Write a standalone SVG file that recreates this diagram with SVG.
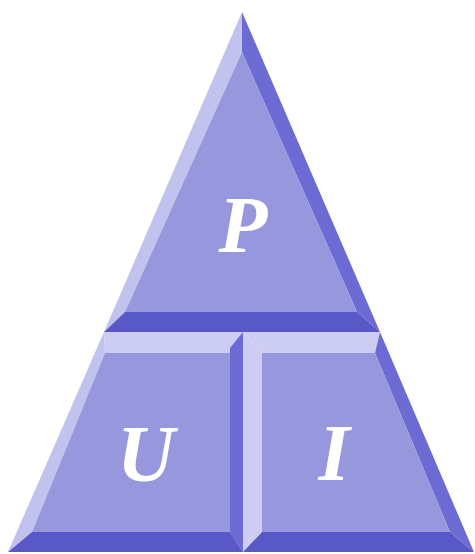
<svg xmlns="http://www.w3.org/2000/svg" width="475" height="554" viewBox="0 0 475 554">
<style>
.face{fill:#9797dd}
.lt{fill:#cdcdf3}
.lt2{fill:#c2c2ee}
.dk{fill:#6b6bd3}
.dkb{fill:#5858c6}
.lbl{font-family:"Liberation Serif","Times New Roman",serif;font-style:italic;font-weight:bold;fill:#ffffff;text-anchor:middle}
</style>
<rect width="475" height="554" fill="#ffffff"/>
<g id="top-P">
<polygon class="lt2" points="242,12 104,332 125,312 242,52"/>
<polygon class="dk" points="242,12 380,332 357,312 242,52"/>
<polygon class="dkb" points="104,332 380,332 357,312 125,312"/>
<polygon class="face" points="242,52 357,312 125,312"/>
<text class="lbl" x="243" y="252" font-size="80">P</text>
</g>
<g id="left-U">
<polygon class="lt" points="104,332 243,332 230,353 105,353"/>
<polygon class="lt2" points="104,332 105,353 32,532 8,552"/>
<polygon class="dk" points="243,332 243,552 230,532 230,348"/>
<polygon class="dkb" points="8,552 243,552 230,532 32,532"/>
<polygon class="face" points="105,353 230,353 230,532 32,532"/>
<text class="lbl" x="146" y="481" font-size="80">U</text>
</g>
<g id="right-I">
<polygon class="lt" points="243,332 380,332 375,353 262,353"/>
<polygon class="lt" points="243,332 262,353 262,532 243,552"/>
<polygon class="dk" points="380,332 474,552 450,532 375,353"/>
<polygon class="dkb" points="243,552 474,552 450,532 262,532"/>
<polygon class="face" points="262,353 375,353 450,532 262,532"/>
<text class="lbl" x="334" y="480" font-size="80">I</text>
</g>
</svg>
